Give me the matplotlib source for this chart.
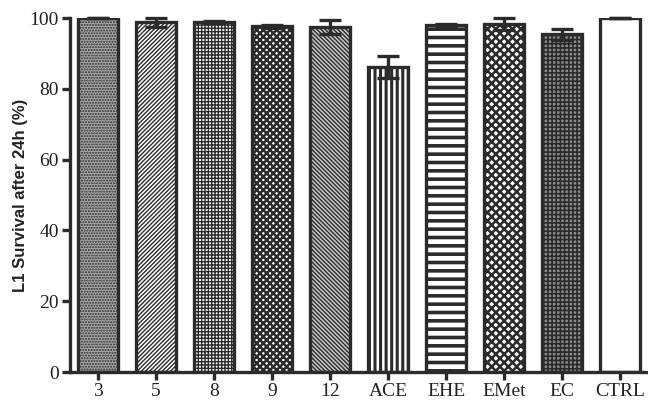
import matplotlib
matplotlib.use("Agg")
import matplotlib.pyplot as plt

# Datos
grupos = ["3", "5", "8", "9", "12", "ACE", "EHE", "EMet", "EC", "CTRL"]
supervivencia = [100.0, 98.8, 98.9, 97.7, 97.4, 86.2, 98.0, 98.2, 95.4, 100.0]
error = [0.0, 1.2, 0.3, 0.4, 2.0, 3.0, 0.3, 1.7, 1.6, 0.0]
yticks = [0, 20, 40, 60, 80, 100]

# Estilo de cada barra: trama, relleno, grosor de la trama
tramas = ["......", "////////", "+++++", "xxxxx", "\\\\\\\\\\\\\\\\", "|||", "--", "xxxx", "++++", ""]
rellenos = ["#a8a8a8", "white", "white", "white", "#c8c8c8", "white", "white", "white", "#8c8c8c", "white"]
grosores = [1.0, 1.0, 1.0, 1.8, 1.0, 2.2, 2.6, 1.8, 1.2, 1.0]

oscuro = "#2b2b2b"
plt.rcParams["hatch.color"] = oscuro

fig = plt.figure(figsize=(6.48, 4.01), dpi=100)
ax = fig.add_axes([0.108, 0.072, 0.892, 0.883])

pos = list(range(len(grupos)))
for i in pos:
    with plt.rc_context({"hatch.linewidth": grosores[i]}):
        b = ax.bar(i, supervivencia[i], width=0.68, color=rellenos[i], edgecolor=oscuro,
                   linewidth=2.4, hatch=tramas[i], zorder=2)
    if hasattr(b[0], "set_hatch_linewidth"):
        b[0].set_hatch_linewidth(grosores[i])

ax.errorbar(pos, supervivencia, yerr=error, fmt="none", ecolor=oscuro,
            elinewidth=2.4, capsize=8, capthick=2.4, zorder=3, clip_on=False)

ax.set_xlim(-0.48, len(grupos) - 0.52)
ax.set_ylim(0, 100)
ax.set_yticks(yticks)
ax.set_xticks(pos)
ax.set_xticklabels(grupos, fontfamily="Liberation Serif", fontsize=14, color="#222222")
ax.set_yticklabels([str(v) for v in yticks], fontfamily="Liberation Serif", fontsize=14,
                   color="#222222")

for s in ["top", "right"]:
    ax.spines[s].set_visible(False)
for s in ["left", "bottom"]:
    ax.spines[s].set_linewidth(2.4)
    ax.spines[s].set_color(oscuro)
ax.tick_params(width=2.4, length=6, color=oscuro, pad=2)

ax.set_ylabel("L1 Survival after 24h (%)", fontfamily="Liberation Sans", fontweight="bold",
              fontsize=12, color="#222222", labelpad=1)

fig.savefig("out.png", dpi=100)
